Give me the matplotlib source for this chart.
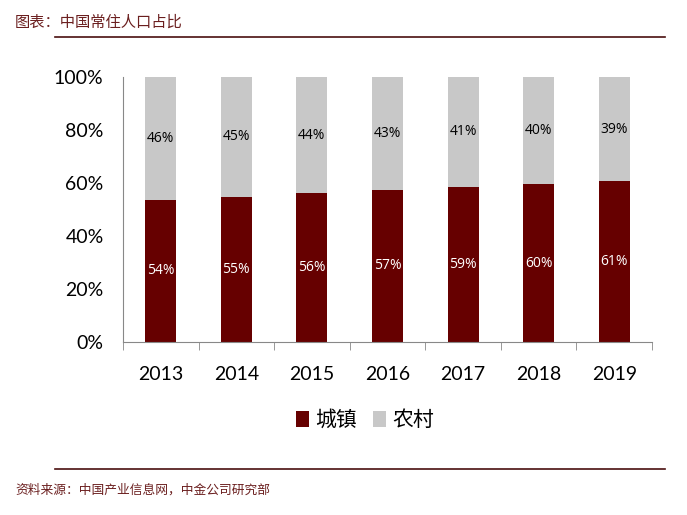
import matplotlib
matplotlib.use("Agg")
import matplotlib.pyplot as plt
import numpy as np

plt.rcParams['font.family'] = ['Lato', 'Noto Sans CJK SC', 'DejaVu Sans']

years = ['2013', '2014', '2015', '2016', '2017', '2018', '2019']
urban = [53.7, 54.8, 56.1, 57.4, 58.5, 59.6, 60.6]
rural = [46.3, 45.2, 43.9, 42.6, 41.5, 40.4, 39.4]
urban_labels = ['54%', '55%', '56%', '57%', '59%', '60%', '61%']
rural_labels = ['46%', '45%', '44%', '43%', '41%', '40%', '39%']

dark = '#660000'
grey = '#c8c8c8'

fig = plt.figure(figsize=(6.87, 5.15), dpi=100)
ax = fig.add_axes([123 / 687, 1 - 342 / 515, (652 - 123) / 687, (342 - 77) / 515])

x = np.arange(len(years))
ax.bar(x, urban, width=0.41, color=dark, label='城镇')
ax.bar(x, rural, width=0.41, bottom=urban, color=grey, label='农村')

for i in range(len(years)):
    ax.text(x[i], urban[i] / 2, urban_labels[i], ha='center', va='center',
            color='white', fontsize=10, family=['Open Sans', 'DejaVu Sans'])
    ax.text(x[i], urban[i] + rural[i] / 2, rural_labels[i], ha='center', va='center',
            color='black', fontsize=10, family=['Open Sans', 'DejaVu Sans'])

ax.set_xlim(-0.5, len(years) - 0.5)
ax.set_ylim(0, 100)
ax.set_yticks([0, 20, 40, 60, 80, 100])
ax.set_yticklabels(['0%', '20%', '40%', '60%', '80%', '100%'], fontsize=14)
ax.tick_params(axis='y', length=0, pad=14)
ax.set_xticks(x)
ax.set_xticklabels(years, fontsize=14)
ax.tick_params(axis='x', length=0, pad=17)
ax.set_xticks(np.arange(len(years) + 1) - 0.5, minor=True)
ax.tick_params(axis='x', which='minor', length=6, color='#888888', direction='out')

for s in ['top', 'right']:
    ax.spines[s].set_visible(False)
ax.spines['left'].set_color('#888888')
ax.spines['bottom'].set_color('#888888')

leg = fig.legend(loc='center', bbox_to_anchor=(365 / 687, 1 - 420 / 515), ncol=2,
                 frameon=False, handlelength=0.6, handleheight=0.8,
                 handletextpad=0.3, columnspacing=0.8,
                 prop={'family': ['Noto Sans CJK SC'], 'size': 15})

fig.text(15 / 687, 1 - 22 / 515, '图表：中国常住人口占比', color='#6b1f1f', fontsize=11,
         style='italic', va='center', family=['Noto Sans CJK SC'])
fig.add_artist(plt.Line2D([55 / 687, 665 / 687], [1 - 37 / 515, 1 - 37 / 515],
                          color='#4a0f0f', lw=1.2))
fig.add_artist(plt.Line2D([55 / 687, 665 / 687], [1 - 469 / 515, 1 - 469 / 515],
                          color='#4a0f0f', lw=1.2))
fig.text(15 / 687, 1 - 490 / 515, '资料来源：中国产业信息网，中金公司研究部', color='#6b1f1f',
         fontsize=9.2, style='italic', va='center', family=['Noto Sans CJK SC'])

fig.savefig('out.png', dpi=100)
